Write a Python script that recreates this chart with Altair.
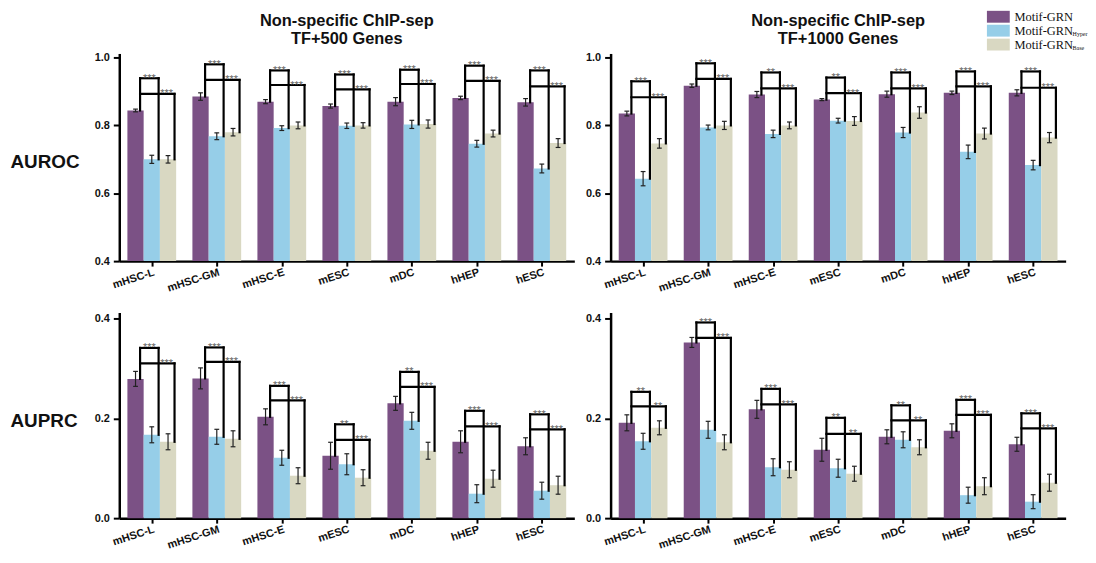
import json
import altair as alt
import pandas as pd

cells = ["mHSC-L", "mHSC-GM", "mHSC-E", "mESC", "mDC", "hHEP", "hESC"]
series = ["Motif-GRN", "Motif-GRN Hyper", "Motif-GRN Base"]
colors = ["#7B5185", "#96CEE8", "#D9D8C2"]

# ---- AUROC, TF+500 genes ----
roc500_grn = [0.844, 0.885, 0.870, 0.857, 0.870, 0.881, 0.868]
roc500_hyper = [0.700, 0.768, 0.792, 0.799, 0.803, 0.746, 0.673]
roc500_base = [0.700, 0.780, 0.800, 0.800, 0.804, 0.776, 0.748]
roc500_grn_err = [0.004, 0.011, 0.006, 0.006, 0.012, 0.005, 0.011]
roc500_hyper_err = [0.012, 0.010, 0.007, 0.008, 0.012, 0.010, 0.013]
roc500_base_err = [0.011, 0.011, 0.010, 0.008, 0.012, 0.010, 0.013]
roc500_bracket_hyper = [0.939, 0.980, 0.962, 0.950, 0.964, 0.976, 0.962]
roc500_bracket_base = [0.893, 0.934, 0.919, 0.906, 0.922, 0.931, 0.915]
roc500_sig_hyper = ["***", "***", "***", "***", "***", "***", "***"]
roc500_sig_base = ["***", "***", "***", "***", "***", "***", "***"]

# ---- AUROC, TF+1000 genes ----
roc1000_grn = [0.835, 0.917, 0.891, 0.876, 0.892, 0.896, 0.896]
roc1000_hyper = [0.643, 0.794, 0.775, 0.814, 0.779, 0.722, 0.683]
roc1000_base = [0.747, 0.800, 0.800, 0.813, 0.838, 0.776, 0.764]
roc1000_grn_err = [0.007, 0.005, 0.009, 0.003, 0.009, 0.005, 0.009]
roc1000_hyper_err = [0.021, 0.007, 0.011, 0.007, 0.015, 0.020, 0.014]
roc1000_base_err = [0.014, 0.012, 0.010, 0.013, 0.017, 0.016, 0.015]
roc1000_bracket_hyper = [0.930, 0.983, 0.956, 0.941, 0.956, 0.959, 0.959]
roc1000_bracket_base = [0.883, 0.937, 0.909, 0.895, 0.909, 0.915, 0.911]
roc1000_sig_hyper = ["***", "***", "**", "**", "***", "***", "***"]
roc1000_sig_base = ["***", "***", "***", "***", "***", "***", "***"]

# ---- AUPRC, TF+500 genes ----
prc500_grn = [0.279, 0.280, 0.203, 0.125, 0.230, 0.153, 0.144]
prc500_hyper = [0.167, 0.163, 0.121, 0.108, 0.195, 0.049, 0.055]
prc500_base = [0.153, 0.159, 0.085, 0.081, 0.135, 0.079, 0.066]
prc500_grn_err = [0.015, 0.021, 0.016, 0.027, 0.014, 0.022, 0.017]
prc500_hyper_err = [0.016, 0.015, 0.015, 0.021, 0.017, 0.018, 0.017]
prc500_base_err = [0.016, 0.016, 0.016, 0.016, 0.017, 0.017, 0.018]
prc500_bracket_hyper = [0.341, 0.342, 0.265, 0.188, 0.293, 0.215, 0.208]
prc500_bracket_base = [0.310, 0.313, 0.236, 0.157, 0.263, 0.184, 0.178]
prc500_sig_hyper = ["***", "***", "***", "**", "**", "***", "***"]
prc500_sig_base = ["***", "***", "***", "***", "***", "***", "***"]

# ---- AUPRC, TF+1000 genes ----
prc1000_grn = [0.191, 0.352, 0.218, 0.137, 0.163, 0.175, 0.148]
prc1000_hyper = [0.154, 0.177, 0.102, 0.100, 0.157, 0.046, 0.033]
prc1000_base = [0.181, 0.152, 0.097, 0.089, 0.142, 0.064, 0.071]
prc1000_grn_err = [0.016, 0.010, 0.018, 0.023, 0.014, 0.014, 0.014]
prc1000_hyper_err = [0.016, 0.017, 0.017, 0.018, 0.016, 0.016, 0.014]
prc1000_base_err = [0.014, 0.015, 0.016, 0.015, 0.015, 0.017, 0.017]
prc1000_bracket_hyper = [0.253, 0.392, 0.259, 0.201, 0.226, 0.237, 0.210]
prc1000_bracket_base = [0.224, 0.361, 0.228, 0.169, 0.196, 0.207, 0.180]
prc1000_sig_hyper = ["**", "***", "***", "**", "**", "***", "***"]
prc1000_sig_base = ["**", "***", "***", "**", "**", "***", "***"]

title_line1 = "Non-specific ChIP-sep"
title_500 = "TF+500 Genes"
title_1000 = "TF+1000 Genes"

FONT = "Liberation Sans"
W = 458
BAR = 0.25
LEGS = (-0.18, 0.105, 0.35)
CAP = 0.037

label_expr = json.dumps(cells) + "[datum.value]"


def panel(vals, errs, br_h, br_b, sig_h, sig_b, ydom, yticks, height,
          row_title=None, title2=None, legend=False):
    bar_rows, cap_rows, seg_rows, star_rows = [], [], [], []
    for i, c in enumerate(cells):
        for k, s in enumerate(series):
            x0 = i - 1.5 * BAR + BAR * k
            v, e = vals[k][i], errs[k][i]
            bar_rows.append(dict(series=s, x0=x0, x1=x0 + BAR, xc=x0 + BAR / 2,
                                 v=v, lo=v - e, hi=v + e, base=ydom[0]))
            for y in (v - e, v + e):
                cap_rows.append(dict(xa=x0 + BAR / 2 - CAP, xb=x0 + BAR / 2 + CAP, y=y))
        l1, l2, l3 = (i + d for d in LEGS)
        a, b = br_h[i], br_b[i]
        seg_rows += [
            dict(xa=l1, xb=l2, ya=a, yb=a),
            dict(xa=l1, xb=l3, ya=b, yb=b),
            dict(xa=l1, xb=l1, ya=vals[0][i], yb=a),
            dict(xa=l2, xb=l2, ya=vals[1][i], yb=a),
            dict(xa=l3, xb=l3, ya=vals[2][i], yb=b),
        ]
        star_rows += [dict(x=(l1 + l2) / 2, y=a, t=sig_h[i]),
                      dict(x=(l2 + l3) / 2, y=b, t=sig_b[i])]

    xs = alt.Scale(domain=[-0.5, 6.5], nice=False, zero=False)
    ys = alt.Scale(domain=ydom, nice=False, zero=False)
    xaxis = alt.Axis(values=list(range(7)), labelExpr=label_expr, labelAngle=-18,
                     labelAlign="right", labelBaseline="top", labelPadding=0,
                     labelFontSize=11, tickSize=5, title=None)
    if row_title:
        yaxis = alt.Axis(values=yticks, format=".1f", title=row_title, titleAngle=0,
                         titleX=-110, titleY=109, titleAlign="left",
                         titleBaseline="middle", titleFontSize=19,
                         titleFont=FONT, titleFontWeight="bold", titleColor="#111")
    else:
        yaxis = alt.Axis(values=yticks, format=".1f", title=None)

    if legend:
        leg = alt.Legend(orient="none", legendX=384, legendY=-43.2, title=None,
                         symbolType="M-2,-1.04L2,-1.04L2,1.04L-2,1.04Z",
                         symbolSize=132, symbolStrokeWidth=0, symbolOpacity=1,
                         labelFont="Liberation Serif", labelFontSize=12.5,
                         labelFontWeight="normal", labelColor="#111",
                         labelExpr="'Motif-GRN'", labelOffset=10, rowPadding=1,
                         padding=0)
    else:
        leg = None

    bars = alt.Chart(pd.DataFrame(bar_rows)).mark_rect().encode(
        x=alt.X("x0:Q", scale=xs, axis=xaxis),
        x2="x1:Q",
        y=alt.Y("v:Q", scale=ys, axis=yaxis),
        y2="base:Q",
        color=alt.Color("series:N", scale=alt.Scale(domain=series, range=colors),
                        sort=series, legend=leg),
    )
    err = alt.Chart(pd.DataFrame(bar_rows)).mark_rule(strokeWidth=1.2).encode(
        x="xc:Q", y="lo:Q", y2="hi:Q", color=alt.value("#222"))
    caps = alt.Chart(pd.DataFrame(cap_rows)).mark_rule(strokeWidth=1.2).encode(
        x="xa:Q", x2="xb:Q", y="y:Q", color=alt.value("#222"))
    segs = alt.Chart(pd.DataFrame(seg_rows)).mark_rule(
        strokeWidth=2.2, strokeCap="square").encode(
        x="xa:Q", x2="xb:Q", y="ya:Q", y2="yb:Q", color=alt.value("black"))
    stars = alt.Chart(pd.DataFrame(star_rows)).mark_text(
        font=FONT, fontSize=11, baseline="alphabetic", dy=3.5).encode(
        x="x:Q", y="y:Q", text="t:N", color=alt.value("#666666"))
    layers = [bars, err, caps, segs, stars]
    if title2:
        one = pd.DataFrame({"t": [0]})
        for txt, yy in ((title_line1, -27.4), (title2, -10)):
            layers.append(alt.Chart(one).mark_text(
                text=txt, font=FONT, fontSize=16.5, fontWeight="bold",
                baseline="alphabetic", align="center").encode(
                x=alt.value(W / 2), y=alt.value(yy), color=alt.value("#111")))
    if legend:
        one = pd.DataFrame({"t": [0]})
        for txt, yy in (("Hyper", -17.2), ("Base", -3.2)):
            layers.append(alt.Chart(one).mark_text(
                text=txt, font="Liberation Serif", fontSize=6,
                baseline="alphabetic", align="left").encode(
                x=alt.value(465), y=alt.value(yy), color=alt.value("#111")))
    return alt.layer(*layers).properties(width=W, height=height)


roc_ticks = [0.4, 0.6, 0.8, 1.0]
prc_ticks = [0.0, 0.2, 0.4]
roc_dom = [0.4, 1.012]
prc_dom = [0.0, 0.412]
H_TOP = 209
H_BOT = 207

tl = panel([roc500_grn, roc500_hyper, roc500_base],
           [roc500_grn_err, roc500_hyper_err, roc500_base_err],
           roc500_bracket_hyper, roc500_bracket_base, roc500_sig_hyper, roc500_sig_base,
           roc_dom, roc_ticks, H_TOP, row_title="AUROC", title2=title_500)
tr = panel([roc1000_grn, roc1000_hyper, roc1000_base],
           [roc1000_grn_err, roc1000_hyper_err, roc1000_base_err],
           roc1000_bracket_hyper, roc1000_bracket_base, roc1000_sig_hyper, roc1000_sig_base,
           roc_dom, roc_ticks, H_TOP, title2=title_1000, legend=True)
bl = panel([prc500_grn, prc500_hyper, prc500_base],
           [prc500_grn_err, prc500_hyper_err, prc500_base_err],
           prc500_bracket_hyper, prc500_bracket_base, prc500_sig_hyper, prc500_sig_base,
           prc_dom, prc_ticks, H_BOT, row_title="AUPRC")
br = panel([prc1000_grn, prc1000_hyper, prc1000_base],
           [prc1000_grn_err, prc1000_hyper_err, prc1000_base_err],
           prc1000_bracket_hyper, prc1000_bracket_base, prc1000_sig_hyper, prc1000_sig_base,
           prc_dom, prc_ticks, H_BOT)

chart = alt.concat(tl, tr, bl, br, columns=2, spacing={"row": 51.7, "column": 36.5},
                   bounds="flush").resolve_scale(
    x="independent", y="independent", color="independent").resolve_legend(
    color="independent").properties(
    padding={"left": 2, "top": 0, "right": 0, "bottom": 0}).configure_view(
    stroke=None).configure_axis(
    grid=False, labelFont=FONT, labelFontWeight="bold", labelFontSize=11,
    labelColor="#111", domainColor="black", domainWidth=2.5, tickColor="black",
    tickWidth=2, tickSize=6, labelPadding=4)

chart.save("out.html", embed_options={"renderer": "svg", "actions": False})
